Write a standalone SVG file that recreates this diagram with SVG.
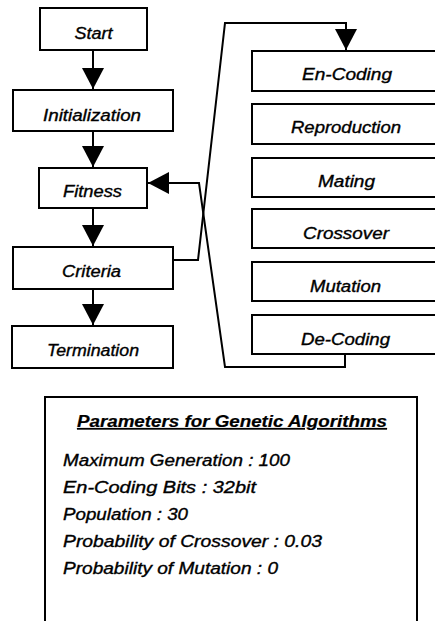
<svg xmlns="http://www.w3.org/2000/svg" width="435" height="621" viewBox="0 0 435 621">
<style>
.box{fill:#fff;stroke:#000;stroke-width:2}
.lbl{font-family:"Liberation Sans",Arial,sans-serif;font-style:italic;font-size:16px;fill:#000;stroke:#000;stroke-width:0.35}
.ln{fill:none;stroke:#000;stroke-width:2}
.title{font-weight:bold;text-decoration:underline;stroke-width:0.2}
</style>
<defs>
<marker id="ah" markerUnits="userSpaceOnUse" markerWidth="22" markerHeight="22" viewBox="0 0 22 22" refX="21" refY="11" orient="auto">
<path d="M0,0 L21,11 L0,22 Z" fill="#000"/>
</marker>
</defs>
<rect width="435" height="621" fill="#fff"/>
<g id="connectors">
<line class="ln" x1="93" y1="50" x2="93" y2="89" marker-end="url(#ah)"/>
<line class="ln" x1="93" y1="131" x2="93" y2="167" marker-end="url(#ah)"/>
<line class="ln" x1="93" y1="208" x2="93" y2="246" marker-end="url(#ah)"/>
<line class="ln" x1="93" y1="289" x2="93" y2="325" marker-end="url(#ah)"/>
<path class="ln" d="M173,260 H198 L225,23 H346 V50" marker-end="url(#ah)"/>
<path class="ln" d="M345,354 V367 H225 L199,183 H148" marker-end="url(#ah)"/>
</g>
<g id="start"><rect class="box" x="40" y="8" width="107" height="42"/><text class="lbl" x="93.5" y="39" text-anchor="middle" textLength="38" lengthAdjust="spacingAndGlyphs">Start</text></g>
<g id="initialization"><rect class="box" x="13" y="90" width="160" height="41"/><text class="lbl" x="92" y="121" text-anchor="middle" textLength="98" lengthAdjust="spacingAndGlyphs">Initialization</text></g>
<g id="fitness"><rect class="box" x="39" y="168" width="108" height="40"/><text class="lbl" x="92.5" y="197" text-anchor="middle" textLength="59" lengthAdjust="spacingAndGlyphs">Fitness</text></g>
<g id="criteria"><rect class="box" x="13" y="247" width="160" height="42"/><text class="lbl" x="91.5" y="277" text-anchor="middle" textLength="59" lengthAdjust="spacingAndGlyphs">Criteria</text></g>
<g id="termination"><rect class="box" x="12" y="326" width="161" height="42"/><text class="lbl" x="93" y="356" text-anchor="middle" textLength="92" lengthAdjust="spacingAndGlyphs">Termination</text></g>
<g id="encoding"><rect class="box" x="252" y="51" width="200" height="40"/><text class="lbl" x="347" y="80" text-anchor="middle" textLength="90" lengthAdjust="spacingAndGlyphs">En-Coding</text></g>
<g id="reproduction"><rect class="box" x="252" y="104" width="200" height="40"/><text class="lbl" x="346" y="133" text-anchor="middle" textLength="110" lengthAdjust="spacingAndGlyphs">Reproduction</text></g>
<g id="mating"><rect class="box" x="252" y="158" width="200" height="39"/><text class="lbl" x="346.5" y="187" text-anchor="middle" textLength="57" lengthAdjust="spacingAndGlyphs">Mating</text></g>
<g id="crossover"><rect class="box" x="252" y="209" width="200" height="39"/><text class="lbl" x="346" y="239" text-anchor="middle" textLength="86" lengthAdjust="spacingAndGlyphs">Crossover</text></g>
<g id="mutation"><rect class="box" x="252" y="262" width="200" height="39"/><text class="lbl" x="345.5" y="292" text-anchor="middle" textLength="71" lengthAdjust="spacingAndGlyphs">Mutation</text></g>
<g id="decoding"><rect class="box" x="252" y="315" width="200" height="39"/><text class="lbl" x="345.5" y="345" text-anchor="middle" textLength="89" lengthAdjust="spacingAndGlyphs">De-Coding</text></g>
<g id="parameters">
<rect class="box" x="45" y="397" width="372" height="250"/>
<text class="lbl title" x="77" y="427" textLength="310" lengthAdjust="spacingAndGlyphs">Parameters for Genetic Algorithms</text>
<text class="lbl" x="63" y="466" textLength="227" lengthAdjust="spacingAndGlyphs">Maximum Generation : 100</text>
<text class="lbl" x="63" y="493" textLength="193" lengthAdjust="spacingAndGlyphs">En-Coding Bits : 32bit</text>
<text class="lbl" x="63" y="520" textLength="125" lengthAdjust="spacingAndGlyphs">Population : 30</text>
<text class="lbl" x="63" y="547" textLength="259" lengthAdjust="spacingAndGlyphs">Probability of Crossover : 0.03</text>
<text class="lbl" x="63" y="574" textLength="215" lengthAdjust="spacingAndGlyphs">Probability of Mutation : 0</text>
</g>
</svg>
